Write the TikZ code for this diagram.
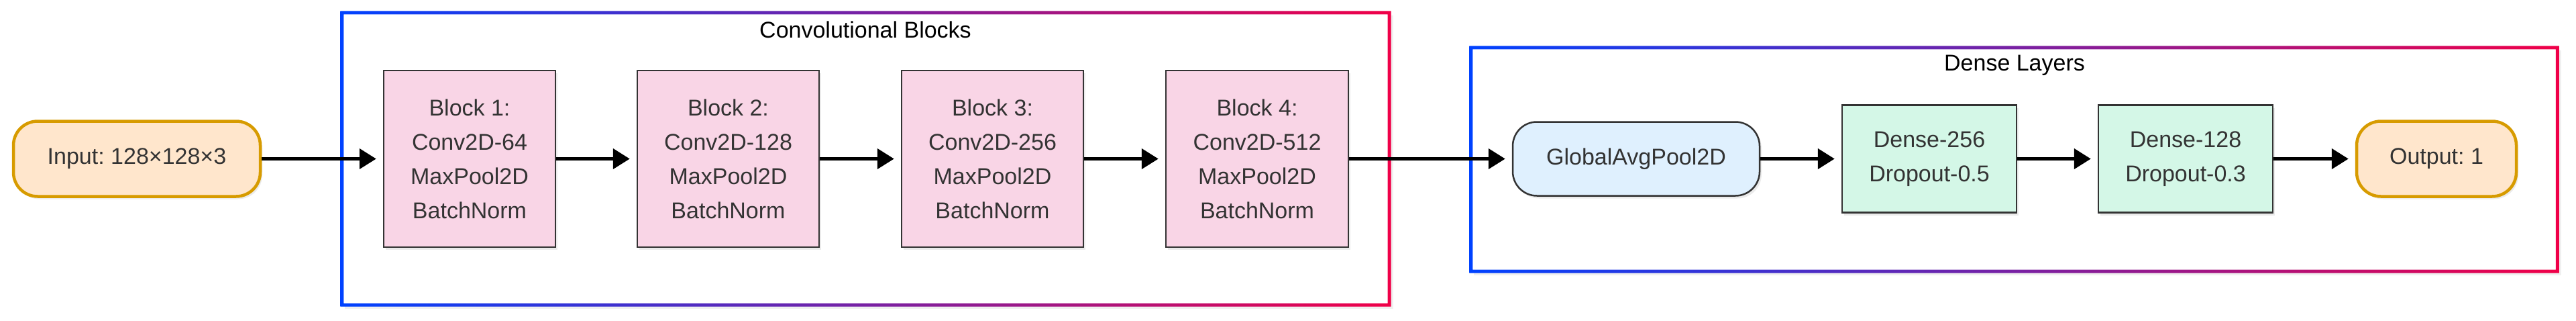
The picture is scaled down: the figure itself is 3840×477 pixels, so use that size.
\documentclass[tikz,border=0pt]{standalone}
\usepackage{fontspec}
\setmainfont{Liberation Sans}
\usetikzlibrary{arrows.meta,shadows}
\definecolor{cblue}{RGB}{0,66,255}
\definecolor{cred}{RGB}{240,0,72}
\definecolor{ofill}{HTML}{FFE6CC}
\definecolor{oline}{HTML}{D79B00}
\definecolor{pfill}{HTML}{F9D5E6}
\definecolor{bfill}{HTML}{DFF0FE}
\definecolor{gfill}{HTML}{D4F7E7}
\definecolor{txt}{HTML}{333333}
\tikzset{
  base/.style={inner sep=0pt, align=center, text=txt,
    font=\fontsize{34}{51}\selectfont,
    drop shadow={shadow xshift=3pt, shadow yshift=-4pt, opacity=0.08, fill=black}},
  terminal/.style={base, draw=oline, line width=4.5pt, fill=ofill, rounded corners=36pt, minimum height=112pt},
  convbox/.style={base, draw=txt, line width=2.5pt, fill=pfill, minimum height=263pt},
  poolbox/.style={base, draw=txt, line width=2.5pt, fill=bfill, rounded corners=36pt, minimum height=110pt},
  densebox/.style={base, draw=txt, line width=2.5pt, fill=gfill, minimum height=160pt, minimum width=260pt},
  cluster/.style={inner sep=0pt},
  ctitle/.style={inner sep=0pt, text=black, font=\fontsize{34}{40}\selectfont},
  flow/.style={-{Triangle[length=25pt,width=30pt]}, line width=4.5pt, black, shorten >=10pt}
}
\begin{document}
\frenchspacing
\begin{tikzpicture}[x=1pt,y=-1pt]
\useasboundingbox (0,0) rectangle (3840,477);
% clusters
\node[cluster, minimum width=1561pt, minimum height=435pt] (conv) at (1290.5,236.5) {};
\node[cluster, minimum width=1619pt, minimum height=333pt] (dense) at (3002.5,237.5) {};
\fill[black, opacity=0.06] ([xshift=4pt,yshift=-4pt]conv.north west) rectangle ([xshift=6pt,yshift=-6pt]conv.south east);
\fill[white] (conv.north west) rectangle (conv.south east);
\fill[black, opacity=0.06] ([xshift=4pt,yshift=-4pt]dense.north west) rectangle ([xshift=6pt,yshift=-6pt]dense.south east);
\fill[white] (dense.north west) rectangle (dense.south east);
\shade[left color=cblue, right color=cred, even odd rule]
  ([xshift=-2.5pt,yshift=2.5pt]conv.north west) rectangle ([xshift=2.5pt,yshift=-2.5pt]conv.south east)
  ([xshift=2.5pt,yshift=-2.5pt]conv.north west) rectangle ([xshift=-2.5pt,yshift=2.5pt]conv.south east);
\shade[left color=cblue, right color=cred, even odd rule]
  ([xshift=-2.5pt,yshift=2.5pt]dense.north west) rectangle ([xshift=2.5pt,yshift=-2.5pt]dense.south east)
  ([xshift=2.5pt,yshift=-2.5pt]dense.north west) rectangle ([xshift=-2.5pt,yshift=2.5pt]dense.south east);
\node[ctitle] (convtitle) at (1290,44) {Convolutional Blocks};
\node[ctitle] (densetitle) at (3003,97) {Dense Layers};
% nodes
\node[terminal, minimum width=368pt] (in) at (204,236.5) {Input: 128×128×3};
\node[convbox, minimum width=256pt] (b1) at (700,236.5) {Block 1:\\Conv2D-64\\MaxPool2D\\BatchNorm};
\node[convbox, minimum width=271pt] (b2) at (1085.5,236.5) {Block 2:\\Conv2D-128\\MaxPool2D\\BatchNorm};
\node[convbox, minimum width=271pt] (b3) at (1479.5,236.5) {Block 3:\\Conv2D-256\\MaxPool2D\\BatchNorm};
\node[convbox, minimum width=272pt] (b4) at (1874,236.5) {Block 4:\\Conv2D-512\\MaxPool2D\\BatchNorm};
\node[poolbox, minimum width=368pt] (gap) at (2439,236.5) {GlobalAvgPool2D};
\node[densebox] (d1) at (2876,236.5) {Dense-256\\Dropout-0.5};
\node[densebox] (d2) at (3258,236.5) {Dense-128\\Dropout-0.3};
\node[terminal, minimum width=238pt] (out) at (3632,236.5) {Output: 1};
% connectors
\draw[flow] (in) -- (b1);
\draw[flow] (b1) -- (b2);
\draw[flow] (b2) -- (b3);
\draw[flow] (b3) -- (b4);
\draw[flow] (b4) -- (gap);
\draw[flow] (gap) -- (d1);
\draw[flow] (d1) -- (d2);
\draw[flow] (d2) -- (out);
\end{tikzpicture}
\end{document}
